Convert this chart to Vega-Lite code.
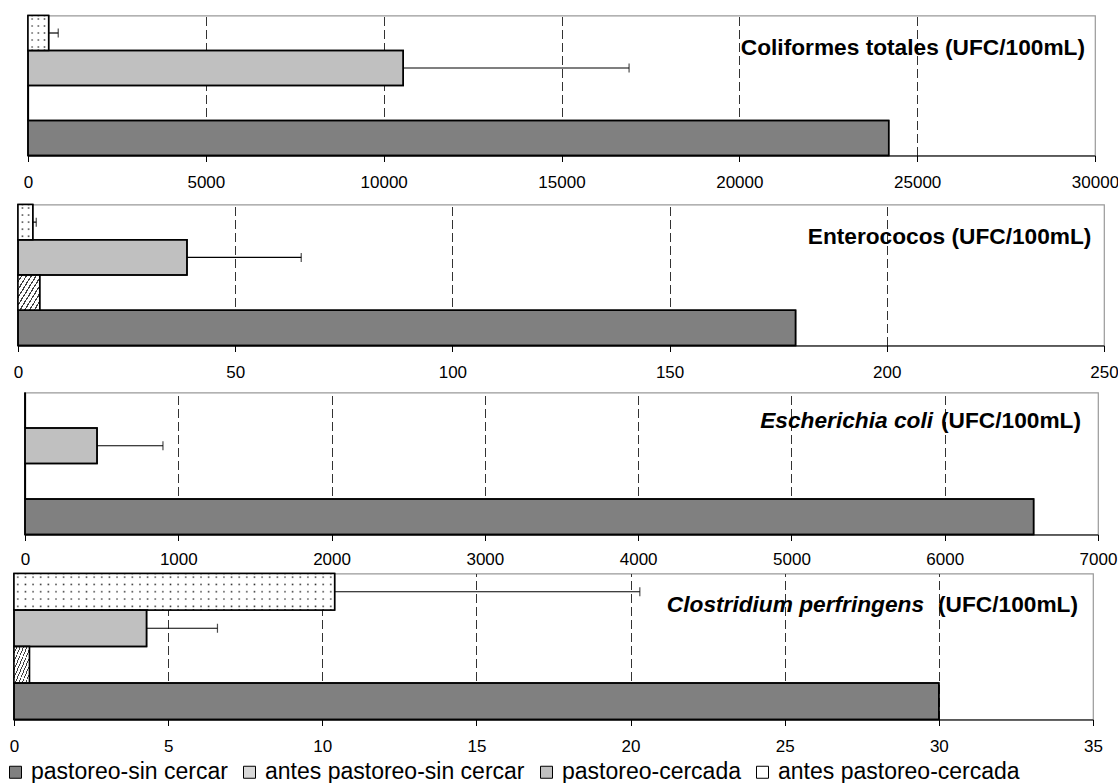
{
  "$schema": "https://vega.github.io/schema/vega-lite/v6.json",
  "background": "white",
  "padding": {"left": 0, "top": 13.5, "right": 0, "bottom": 0},
  "config": {
    "font": "Liberation Sans",
    "view": {"stroke": "#999999", "strokeWidth": 1.2},
    "axis": {"labelFont": "Liberation Sans", "labelFontSize": 17, "labelColor": "#000000", "domainColor": "#000000", "domainWidth": 1.2, "tickColor": "#000000", "tickSize": 6, "tickWidth": 1, "labelPadding": 13, "title": null, "labelFlush": false, "labelOverlap": false},
    "legend": {"orient": "bottom", "direction": "horizontal", "title": null, "symbolType": "square", "symbolSize": 144, "symbolStrokeColor": "#000000", "symbolStrokeWidth": 1, "labelFont": "Liberation Sans", "labelFontSize": 23, "labelColor": "#000000", "labelOffset": 4, "columnPadding": 10, "padding": 4, "offset": 1, "labelLimit": 400}
  },
  "datasets": {
    "coliformes": [
      {"grupo": "antes pastoreo-cercada", "valor": 580, "sup": 850},
      {"grupo": "pastoreo-cercada", "valor": 10550, "sup": 16900},
      {"grupo": "antes pastoreo-sin cercar", "valor": 0},
      {"grupo": "pastoreo-sin cercar", "valor": 24200}
    ],
    "enterococos": [
      {"grupo": "antes pastoreo-cercada", "valor": 3.4, "sup": 4.2},
      {"grupo": "pastoreo-cercada", "valor": 38.9, "sup": 65.2},
      {"grupo": "antes pastoreo-sin cercar", "valor": 5.0},
      {"grupo": "pastoreo-sin cercar", "valor": 179}
    ],
    "ecoli": [
      {"grupo": "antes pastoreo-cercada", "valor": 0},
      {"grupo": "pastoreo-cercada", "valor": 470, "sup": 900},
      {"grupo": "antes pastoreo-sin cercar", "valor": 0},
      {"grupo": "pastoreo-sin cercar", "valor": 6580}
    ],
    "clostridium": [
      {"grupo": "antes pastoreo-cercada", "valor": 10.4, "sup": 20.3},
      {"grupo": "pastoreo-cercada", "valor": 4.3, "sup": 6.6},
      {"grupo": "antes pastoreo-sin cercar", "valor": 0.5},
      {"grupo": "pastoreo-sin cercar", "valor": 30}
    ]
  },
  "spacing": 0,
  "resolve": {"scale": {"x": "independent", "y": "independent"}},
  "vconcat": [
    {
      "spacing": 0,
      "hconcat": [
        {"width": 15, "height": 1, "data": {"values": []}, "mark": "point", "encoding": {}, "view": {"stroke": null}},
        {
          "width": 1067, "height": 140,
          "data": {"name": "coliformes"},
          "encoding": {
            "y": {"field": "grupo", "type": "nominal", "scale": {"domain": ["antes pastoreo-cercada", "pastoreo-cercada", "antes pastoreo-sin cercar", "pastoreo-sin cercar"], "paddingInner": 0, "paddingOuter": 0}, "axis": {"labels": false, "ticks": false, "domain": true, "grid": false, "minExtent": 12, "maxExtent": 12, "title": null}},
            "x": {"field": "valor", "type": "quantitative", "scale": {"domain": [0, 30000], "nice": false}, "axis": {"values": [0, 5000, 10000, 15000, 20000, 25000, 30000], "format": "d", "grid": true, "gridColor": "#333333", "gridDash": [9, 4], "gridWidth": 1, "gridOpacity": {"condition": {"test": "datum.value >= 30000", "value": 0}, "value": 1}, "minExtent": 46, "maxExtent": 46, "title": null}}
          },
          "layer": [
            {"mark": {"type": "bar", "stroke": "#000000", "strokeWidth": 1.5},
             "encoding": {"color": {"field": "grupo", "type": "nominal",
               "legend": {"title": null, "encode": {"symbols": {"update": {"stroke": {"value": "#000000"}, "strokeWidth": {"value": 1}}}}},
               "scale": {"domain": ["pastoreo-sin cercar", "antes pastoreo-sin cercar", "pastoreo-cercada", "antes pastoreo-cercada"],
                 "range": ["#808080", "#d8d8d8", "#c0c0c0", "#ffffff"]}}}},
            {"transform": [{"filter": "datum.grupo === 'antes pastoreo-cercada'"}],
             "mark": {"type": "bar", "strokeWidth": 0, "fill": {"gradient": "linear", "x1": 0, "y1": 0, "x2": 0, "y2": 1, "stops": [
               {"offset": 0, "color": "rgba(40,40,40,0)"}, {"offset": 0.06, "color": "rgba(40,40,40,0)"}, {"offset": 0.1, "color": "rgba(40,40,40,1)"}, {"offset": 0.14, "color": "rgba(40,40,40,0)"},
               {"offset": 0.26, "color": "rgba(40,40,40,0)"}, {"offset": 0.3, "color": "rgba(40,40,40,1)"}, {"offset": 0.34, "color": "rgba(40,40,40,0)"},
               {"offset": 0.46, "color": "rgba(40,40,40,0)"}, {"offset": 0.5, "color": "rgba(40,40,40,1)"}, {"offset": 0.54, "color": "rgba(40,40,40,0)"},
               {"offset": 0.66, "color": "rgba(40,40,40,0)"}, {"offset": 0.7, "color": "rgba(40,40,40,1)"}, {"offset": 0.74, "color": "rgba(40,40,40,0)"},
               {"offset": 0.86, "color": "rgba(40,40,40,0)"}, {"offset": 0.9, "color": "rgba(40,40,40,1)"}, {"offset": 0.94, "color": "rgba(40,40,40,0)"},
               {"offset": 1, "color": "rgba(40,40,40,0)"}]}}},
            {"transform": [{"filter": "datum.grupo === 'antes pastoreo-cercada'"}],
             "mark": {"type": "bar", "strokeWidth": 0, "fill": {"gradient": "linear", "x1": 0, "y1": 0, "x2": 1, "y2": 0, "stops": [
               {"offset": 0, "color": "#ffffff"}, {"offset": 0.13, "color": "#ffffff"}, {"offset": 0.2, "color": "rgba(255,255,255,0)"}, {"offset": 0.27, "color": "#ffffff"},
               {"offset": 0.43, "color": "#ffffff"}, {"offset": 0.5, "color": "rgba(255,255,255,0)"}, {"offset": 0.57, "color": "#ffffff"},
               {"offset": 0.73, "color": "#ffffff"}, {"offset": 0.8, "color": "rgba(255,255,255,0)"}, {"offset": 0.87, "color": "#ffffff"}, {"offset": 1, "color": "#ffffff"}]}}},
            {"mark": {"type": "bar", "fill": "transparent", "stroke": "#000000", "strokeWidth": 1.5}},
            {"transform": [{"filter": "isValid(datum.sup)"}], "mark": {"type": "rule", "color": "#000000", "strokeWidth": 1.2}, "encoding": {"x2": {"field": "sup"}}},
            {"transform": [{"filter": "isValid(datum.sup)"}], "mark": {"type": "tick", "color": "#000000", "size": 9, "thickness": 1.2}, "encoding": {"x": {"field": "sup", "type": "quantitative"}}},
            {"transform": [{"filter": "datum.grupo === 'antes pastoreo-cercada'"}],
             "mark": {"type": "text", "text": "Coliformes totales (UFC/100mL)", "align": "right", "baseline": "middle", "font": "Liberation Sans", "fontSize": 22.7, "fontWeight": "bold", "color": "#000000", "dx": -10, "dy": 15},
             "encoding": {"x": {"datum": 30000}}}
          ]
        }
      ]
    },
    {
      "spacing": 0,
      "hconcat": [
        {"width": 5, "height": 1, "data": {"values": []}, "mark": "point", "encoding": {}, "view": {"stroke": null}},
        {
          "width": 1086, "height": 141,
          "data": {"name": "enterococos"},
          "encoding": {
            "y": {"field": "grupo", "type": "nominal", "scale": {"domain": ["antes pastoreo-cercada", "pastoreo-cercada", "antes pastoreo-sin cercar", "pastoreo-sin cercar"], "paddingInner": 0, "paddingOuter": 0}, "axis": {"labels": false, "ticks": false, "domain": true, "grid": false, "minExtent": 12, "maxExtent": 12, "title": null}},
            "x": {"field": "valor", "type": "quantitative", "scale": {"domain": [0, 250], "nice": false}, "axis": {"values": [0, 50, 100, 150, 200, 250], "format": "d", "grid": true, "gridColor": "#333333", "gridDash": [9, 4], "gridWidth": 1, "gridOpacity": {"condition": {"test": "datum.value >= 250", "value": 0}, "value": 1}, "minExtent": 44.25, "maxExtent": 44.25, "title": null}}
          },
          "layer": [
            {"mark": {"type": "bar", "stroke": "#000000", "strokeWidth": 1.5},
             "encoding": {"color": {"field": "grupo", "type": "nominal",
               "legend": {"title": null, "encode": {"symbols": {"update": {"stroke": {"value": "#000000"}, "strokeWidth": {"value": 1}}}}},
               "scale": {"domain": ["pastoreo-sin cercar", "antes pastoreo-sin cercar", "pastoreo-cercada", "antes pastoreo-cercada"],
                 "range": ["#808080", "#d8d8d8", "#c0c0c0", "#ffffff"]}}}},
            {"transform": [{"filter": "datum.grupo === 'antes pastoreo-sin cercar'"}],
             "mark": {"type": "bar", "strokeWidth": 0, "fill": {"gradient": "linear", "x1": 0, "y1": 0, "x2": 1, "y2": 1, "stops": [
                   {"offset": 0, "color": "#ffffff"}, {"offset": 0.08, "color": "#ffffff"}, {"offset": 0.08, "color": "#404040"}, {"offset": 0.111, "color": "#404040"},
                   {"offset": 0.111, "color": "#ffffff"}, {"offset": 0.191, "color": "#ffffff"}, {"offset": 0.191, "color": "#404040"}, {"offset": 0.222, "color": "#404040"},
                   {"offset": 0.222, "color": "#ffffff"}, {"offset": 0.302, "color": "#ffffff"}, {"offset": 0.302, "color": "#404040"}, {"offset": 0.333, "color": "#404040"},
                   {"offset": 0.333, "color": "#ffffff"}, {"offset": 0.413, "color": "#ffffff"}, {"offset": 0.413, "color": "#404040"}, {"offset": 0.444, "color": "#404040"},
                   {"offset": 0.444, "color": "#ffffff"}, {"offset": 0.524, "color": "#ffffff"}, {"offset": 0.524, "color": "#404040"}, {"offset": 0.556, "color": "#404040"},
                   {"offset": 0.556, "color": "#ffffff"}, {"offset": 0.636, "color": "#ffffff"}, {"offset": 0.636, "color": "#404040"}, {"offset": 0.667, "color": "#404040"},
                   {"offset": 0.667, "color": "#ffffff"}, {"offset": 0.747, "color": "#ffffff"}, {"offset": 0.747, "color": "#404040"}, {"offset": 0.778, "color": "#404040"},
                   {"offset": 0.778, "color": "#ffffff"}, {"offset": 0.858, "color": "#ffffff"}, {"offset": 0.858, "color": "#404040"}, {"offset": 0.889, "color": "#404040"},
                   {"offset": 0.889, "color": "#ffffff"}, {"offset": 0.969, "color": "#ffffff"}, {"offset": 0.969, "color": "#404040"}, {"offset": 1, "color": "#404040"}]}}},
            {"transform": [{"filter": "datum.grupo === 'antes pastoreo-cercada'"}],
             "mark": {"type": "bar", "strokeWidth": 0, "fill": {"gradient": "linear", "x1": 0, "y1": 0, "x2": 0, "y2": 1, "stops": [
               {"offset": 0, "color": "rgba(40,40,40,0)"}, {"offset": 0.06, "color": "rgba(40,40,40,0)"}, {"offset": 0.1, "color": "rgba(40,40,40,1)"}, {"offset": 0.14, "color": "rgba(40,40,40,0)"},
               {"offset": 0.26, "color": "rgba(40,40,40,0)"}, {"offset": 0.3, "color": "rgba(40,40,40,1)"}, {"offset": 0.34, "color": "rgba(40,40,40,0)"},
               {"offset": 0.46, "color": "rgba(40,40,40,0)"}, {"offset": 0.5, "color": "rgba(40,40,40,1)"}, {"offset": 0.54, "color": "rgba(40,40,40,0)"},
               {"offset": 0.66, "color": "rgba(40,40,40,0)"}, {"offset": 0.7, "color": "rgba(40,40,40,1)"}, {"offset": 0.74, "color": "rgba(40,40,40,0)"},
               {"offset": 0.86, "color": "rgba(40,40,40,0)"}, {"offset": 0.9, "color": "rgba(40,40,40,1)"}, {"offset": 0.94, "color": "rgba(40,40,40,0)"},
               {"offset": 1, "color": "rgba(40,40,40,0)"}]}}},
            {"transform": [{"filter": "datum.grupo === 'antes pastoreo-cercada'"}],
             "mark": {"type": "bar", "strokeWidth": 0, "fill": {"gradient": "linear", "x1": 0, "y1": 0, "x2": 1, "y2": 0, "stops": [
               {"offset": 0, "color": "#ffffff"}, {"offset": 0.2, "color": "#ffffff"}, {"offset": 0.3, "color": "rgba(255,255,255,0)"}, {"offset": 0.4, "color": "#ffffff"},
               {"offset": 0.62, "color": "#ffffff"}, {"offset": 0.72, "color": "rgba(255,255,255,0)"}, {"offset": 0.82, "color": "#ffffff"}, {"offset": 1, "color": "#ffffff"}]}}},
            {"mark": {"type": "bar", "fill": "transparent", "stroke": "#000000", "strokeWidth": 1.5}},
            {"transform": [{"filter": "isValid(datum.sup)"}], "mark": {"type": "rule", "color": "#000000", "strokeWidth": 1.2}, "encoding": {"x2": {"field": "sup"}}},
            {"transform": [{"filter": "isValid(datum.sup)"}], "mark": {"type": "tick", "color": "#000000", "size": 9, "thickness": 1.2}, "encoding": {"x": {"field": "sup", "type": "quantitative"}}},
            {"transform": [{"filter": "datum.grupo === 'antes pastoreo-cercada'"}],
             "mark": {"type": "text", "text": "Enterococos (UFC/100mL)", "align": "right", "baseline": "middle", "font": "Liberation Sans", "fontSize": 22.7, "fontWeight": "bold", "color": "#000000", "dx": -12.6, "dy": 14.7},
             "encoding": {"x": {"datum": 250}}}
          ]
        }
      ]
    },
    {
      "spacing": 0,
      "hconcat": [
        {"width": 12, "height": 1, "data": {"values": []}, "mark": "point", "encoding": {}, "view": {"stroke": null}},
        {
          "width": 1073, "height": 142,
          "data": {"name": "ecoli"},
          "encoding": {
            "y": {"field": "grupo", "type": "nominal", "scale": {"domain": ["antes pastoreo-cercada", "pastoreo-cercada", "antes pastoreo-sin cercar", "pastoreo-sin cercar"], "paddingInner": 0, "paddingOuter": 0}, "axis": {"labels": false, "ticks": false, "domain": true, "grid": false, "minExtent": 12, "maxExtent": 12, "title": null}},
            "x": {"field": "valor", "type": "quantitative", "scale": {"domain": [0, 7000], "nice": false}, "axis": {"values": [0, 1000, 2000, 3000, 4000, 5000, 6000, 7000], "format": "d", "grid": true, "gridColor": "#333333", "gridDash": [9, 4], "gridWidth": 1, "gridOpacity": {"condition": {"test": "datum.value >= 7000", "value": 0}, "value": 1}, "labelPadding": 11, "minExtent": 36, "maxExtent": 36, "title": null}}
          },
          "layer": [
            {"mark": {"type": "bar", "stroke": "#000000", "strokeWidth": 1.5},
             "encoding": {"color": {"field": "grupo", "type": "nominal",
               "legend": {"title": null, "encode": {"symbols": {"update": {"stroke": {"value": "#000000"}, "strokeWidth": {"value": 1}}}}},
               "scale": {"domain": ["pastoreo-sin cercar", "antes pastoreo-sin cercar", "pastoreo-cercada", "antes pastoreo-cercada"],
                 "range": ["#808080", "#d8d8d8", "#c0c0c0", "#ffffff"]}}}},
            {"mark": {"type": "bar", "fill": "transparent", "stroke": "#000000", "strokeWidth": 1.5}},
            {"transform": [{"filter": "isValid(datum.sup)"}], "mark": {"type": "rule", "color": "#000000", "strokeWidth": 1.2}, "encoding": {"x2": {"field": "sup"}}},
            {"transform": [{"filter": "isValid(datum.sup)"}], "mark": {"type": "tick", "color": "#000000", "size": 9, "thickness": 1.2}, "encoding": {"x": {"field": "sup", "type": "quantitative"}}},
            {"transform": [{"filter": "datum.grupo === 'antes pastoreo-cercada'"}],
             "mark": {"type": "text", "text": "Escherichia coli", "align": "right", "baseline": "middle", "font": "Liberation Sans", "fontSize": 22.7, "fontWeight": "bold", "fontStyle": "italic", "color": "#000000", "dx": -165, "dy": 10.5},
             "encoding": {"x": {"datum": 7000}}},
            {"transform": [{"filter": "datum.grupo === 'antes pastoreo-cercada'"}],
             "mark": {"type": "text", "text": "(UFC/100mL)", "align": "right", "baseline": "middle", "font": "Liberation Sans", "fontSize": 22.7, "fontWeight": "bold", "color": "#000000", "dx": -17, "dy": 10.5},
             "encoding": {"x": {"datum": 7000}}}
          ]
        }
      ]
    },
    {
      "spacing": 0,
      "hconcat": [
        {"width": 1, "height": 1, "data": {"values": []}, "mark": "point", "encoding": {}, "view": {"stroke": null}},
        {
          "width": 1079, "height": 146,
          "data": {"name": "clostridium"},
          "encoding": {
            "y": {"field": "grupo", "type": "nominal", "scale": {"domain": ["antes pastoreo-cercada", "pastoreo-cercada", "antes pastoreo-sin cercar", "pastoreo-sin cercar"], "paddingInner": 0, "paddingOuter": 0}, "axis": {"labels": false, "ticks": false, "domain": true, "grid": false, "minExtent": 12, "maxExtent": 12, "title": null}},
            "x": {"field": "valor", "type": "quantitative", "scale": {"domain": [0, 35], "nice": false}, "axis": {"values": [0, 5, 10, 15, 20, 25, 30, 35], "format": "d", "grid": true, "gridColor": "#333333", "gridDash": [9, 4], "gridWidth": 1, "gridOpacity": {"condition": {"test": "datum.value >= 35", "value": 0}, "value": 1}, "title": null}}
          },
          "layer": [
            {"mark": {"type": "bar", "stroke": "#000000", "strokeWidth": 1.5},
             "encoding": {"color": {"field": "grupo", "type": "nominal",
               "legend": {"title": null, "encode": {"symbols": {"update": {"stroke": {"value": "#000000"}, "strokeWidth": {"value": 1}}}}},
               "scale": {"domain": ["pastoreo-sin cercar", "antes pastoreo-sin cercar", "pastoreo-cercada", "antes pastoreo-cercada"],
                 "range": ["#808080", "#d8d8d8", "#c0c0c0", "#ffffff"]}}}},
            {"transform": [{"filter": "datum.grupo === 'antes pastoreo-sin cercar'"}],
             "mark": {"type": "bar", "strokeWidth": 0, "fill": {"gradient": "linear", "x1": 0, "y1": 0, "x2": 1, "y2": 1, "stops": [
                   {"offset": 0, "color": "#ffffff"}, {"offset": 0.08, "color": "#ffffff"}, {"offset": 0.08, "color": "#404040"}, {"offset": 0.111, "color": "#404040"},
                   {"offset": 0.111, "color": "#ffffff"}, {"offset": 0.191, "color": "#ffffff"}, {"offset": 0.191, "color": "#404040"}, {"offset": 0.222, "color": "#404040"},
                   {"offset": 0.222, "color": "#ffffff"}, {"offset": 0.302, "color": "#ffffff"}, {"offset": 0.302, "color": "#404040"}, {"offset": 0.333, "color": "#404040"},
                   {"offset": 0.333, "color": "#ffffff"}, {"offset": 0.413, "color": "#ffffff"}, {"offset": 0.413, "color": "#404040"}, {"offset": 0.444, "color": "#404040"},
                   {"offset": 0.444, "color": "#ffffff"}, {"offset": 0.524, "color": "#ffffff"}, {"offset": 0.524, "color": "#404040"}, {"offset": 0.556, "color": "#404040"},
                   {"offset": 0.556, "color": "#ffffff"}, {"offset": 0.636, "color": "#ffffff"}, {"offset": 0.636, "color": "#404040"}, {"offset": 0.667, "color": "#404040"},
                   {"offset": 0.667, "color": "#ffffff"}, {"offset": 0.747, "color": "#ffffff"}, {"offset": 0.747, "color": "#404040"}, {"offset": 0.778, "color": "#404040"},
                   {"offset": 0.778, "color": "#ffffff"}, {"offset": 0.858, "color": "#ffffff"}, {"offset": 0.858, "color": "#404040"}, {"offset": 0.889, "color": "#404040"},
                   {"offset": 0.889, "color": "#ffffff"}, {"offset": 0.969, "color": "#ffffff"}, {"offset": 0.969, "color": "#404040"}, {"offset": 1, "color": "#404040"}]}}},
            {"transform": [{"filter": "datum.grupo === 'antes pastoreo-cercada'"}],
             "mark": {"type": "bar", "strokeWidth": 0, "fill": {"gradient": "linear", "x1": 0, "y1": 0, "x2": 0, "y2": 1, "stops": [
               {"offset": 0, "color": "rgba(40,40,40,0)"}, {"offset": 0.06, "color": "rgba(40,40,40,0)"}, {"offset": 0.1, "color": "rgba(40,40,40,1)"}, {"offset": 0.14, "color": "rgba(40,40,40,0)"},
               {"offset": 0.26, "color": "rgba(40,40,40,0)"}, {"offset": 0.3, "color": "rgba(40,40,40,1)"}, {"offset": 0.34, "color": "rgba(40,40,40,0)"},
               {"offset": 0.46, "color": "rgba(40,40,40,0)"}, {"offset": 0.5, "color": "rgba(40,40,40,1)"}, {"offset": 0.54, "color": "rgba(40,40,40,0)"},
               {"offset": 0.66, "color": "rgba(40,40,40,0)"}, {"offset": 0.7, "color": "rgba(40,40,40,1)"}, {"offset": 0.74, "color": "rgba(40,40,40,0)"},
               {"offset": 0.86, "color": "rgba(40,40,40,0)"}, {"offset": 0.9, "color": "rgba(40,40,40,1)"}, {"offset": 0.94, "color": "rgba(40,40,40,0)"},
               {"offset": 1, "color": "rgba(40,40,40,0)"}]}}},
            {"transform": [{"filter": "datum.grupo === 'antes pastoreo-cercada'"}],
             "mark": {"type": "bar", "strokeWidth": 0, "fill": {"gradient": "linear", "x1": 0, "y1": 0, "x2": 1, "y2": 0, "stops": [
               {"offset": 0, "color": "#ffffff"},
               {"offset": 0.0074, "color": "#ffffff"}, {"offset": 0.0119, "color": "rgba(255,255,255,0)"}, {"offset": 0.0164, "color": "#ffffff"},
               {"offset": 0.0312, "color": "#ffffff"}, {"offset": 0.0357, "color": "rgba(255,255,255,0)"}, {"offset": 0.0402, "color": "#ffffff"},
               {"offset": 0.0550, "color": "#ffffff"}, {"offset": 0.0595, "color": "rgba(255,255,255,0)"}, {"offset": 0.0640, "color": "#ffffff"},
               {"offset": 0.0788, "color": "#ffffff"}, {"offset": 0.0833, "color": "rgba(255,255,255,0)"}, {"offset": 0.0878, "color": "#ffffff"},
               {"offset": 0.1026, "color": "#ffffff"}, {"offset": 0.1071, "color": "rgba(255,255,255,0)"}, {"offset": 0.1116, "color": "#ffffff"},
               {"offset": 0.1265, "color": "#ffffff"}, {"offset": 0.1310, "color": "rgba(255,255,255,0)"}, {"offset": 0.1355, "color": "#ffffff"},
               {"offset": 0.1503, "color": "#ffffff"}, {"offset": 0.1548, "color": "rgba(255,255,255,0)"}, {"offset": 0.1593, "color": "#ffffff"},
               {"offset": 0.1741, "color": "#ffffff"}, {"offset": 0.1786, "color": "rgba(255,255,255,0)"}, {"offset": 0.1831, "color": "#ffffff"},
               {"offset": 0.1979, "color": "#ffffff"}, {"offset": 0.2024, "color": "rgba(255,255,255,0)"}, {"offset": 0.2069, "color": "#ffffff"},
               {"offset": 0.2217, "color": "#ffffff"}, {"offset": 0.2262, "color": "rgba(255,255,255,0)"}, {"offset": 0.2307, "color": "#ffffff"},
               {"offset": 0.2455, "color": "#ffffff"}, {"offset": 0.2500, "color": "rgba(255,255,255,0)"}, {"offset": 0.2545, "color": "#ffffff"},
               {"offset": 0.2693, "color": "#ffffff"}, {"offset": 0.2738, "color": "rgba(255,255,255,0)"}, {"offset": 0.2783, "color": "#ffffff"},
               {"offset": 0.2931, "color": "#ffffff"}, {"offset": 0.2976, "color": "rgba(255,255,255,0)"}, {"offset": 0.3021, "color": "#ffffff"},
               {"offset": 0.3169, "color": "#ffffff"}, {"offset": 0.3214, "color": "rgba(255,255,255,0)"}, {"offset": 0.3259, "color": "#ffffff"},
               {"offset": 0.3407, "color": "#ffffff"}, {"offset": 0.3452, "color": "rgba(255,255,255,0)"}, {"offset": 0.3497, "color": "#ffffff"},
               {"offset": 0.3645, "color": "#ffffff"}, {"offset": 0.3690, "color": "rgba(255,255,255,0)"}, {"offset": 0.3735, "color": "#ffffff"},
               {"offset": 0.3884, "color": "#ffffff"}, {"offset": 0.3929, "color": "rgba(255,255,255,0)"}, {"offset": 0.3974, "color": "#ffffff"},
               {"offset": 0.4122, "color": "#ffffff"}, {"offset": 0.4167, "color": "rgba(255,255,255,0)"}, {"offset": 0.4212, "color": "#ffffff"},
               {"offset": 0.4360, "color": "#ffffff"}, {"offset": 0.4405, "color": "rgba(255,255,255,0)"}, {"offset": 0.4450, "color": "#ffffff"},
               {"offset": 0.4598, "color": "#ffffff"}, {"offset": 0.4643, "color": "rgba(255,255,255,0)"}, {"offset": 0.4688, "color": "#ffffff"},
               {"offset": 0.4836, "color": "#ffffff"}, {"offset": 0.4881, "color": "rgba(255,255,255,0)"}, {"offset": 0.4926, "color": "#ffffff"},
               {"offset": 0.5074, "color": "#ffffff"}, {"offset": 0.5119, "color": "rgba(255,255,255,0)"}, {"offset": 0.5164, "color": "#ffffff"},
               {"offset": 0.5312, "color": "#ffffff"}, {"offset": 0.5357, "color": "rgba(255,255,255,0)"}, {"offset": 0.5402, "color": "#ffffff"},
               {"offset": 0.5550, "color": "#ffffff"}, {"offset": 0.5595, "color": "rgba(255,255,255,0)"}, {"offset": 0.5640, "color": "#ffffff"},
               {"offset": 0.5788, "color": "#ffffff"}, {"offset": 0.5833, "color": "rgba(255,255,255,0)"}, {"offset": 0.5878, "color": "#ffffff"},
               {"offset": 0.6026, "color": "#ffffff"}, {"offset": 0.6071, "color": "rgba(255,255,255,0)"}, {"offset": 0.6116, "color": "#ffffff"},
               {"offset": 0.6265, "color": "#ffffff"}, {"offset": 0.6310, "color": "rgba(255,255,255,0)"}, {"offset": 0.6355, "color": "#ffffff"},
               {"offset": 0.6503, "color": "#ffffff"}, {"offset": 0.6548, "color": "rgba(255,255,255,0)"}, {"offset": 0.6593, "color": "#ffffff"},
               {"offset": 0.6741, "color": "#ffffff"}, {"offset": 0.6786, "color": "rgba(255,255,255,0)"}, {"offset": 0.6831, "color": "#ffffff"},
               {"offset": 0.6979, "color": "#ffffff"}, {"offset": 0.7024, "color": "rgba(255,255,255,0)"}, {"offset": 0.7069, "color": "#ffffff"},
               {"offset": 0.7217, "color": "#ffffff"}, {"offset": 0.7262, "color": "rgba(255,255,255,0)"}, {"offset": 0.7307, "color": "#ffffff"},
               {"offset": 0.7455, "color": "#ffffff"}, {"offset": 0.7500, "color": "rgba(255,255,255,0)"}, {"offset": 0.7545, "color": "#ffffff"},
               {"offset": 0.7693, "color": "#ffffff"}, {"offset": 0.7738, "color": "rgba(255,255,255,0)"}, {"offset": 0.7783, "color": "#ffffff"},
               {"offset": 0.7931, "color": "#ffffff"}, {"offset": 0.7976, "color": "rgba(255,255,255,0)"}, {"offset": 0.8021, "color": "#ffffff"},
               {"offset": 0.8169, "color": "#ffffff"}, {"offset": 0.8214, "color": "rgba(255,255,255,0)"}, {"offset": 0.8259, "color": "#ffffff"},
               {"offset": 0.8407, "color": "#ffffff"}, {"offset": 0.8452, "color": "rgba(255,255,255,0)"}, {"offset": 0.8497, "color": "#ffffff"},
               {"offset": 0.8645, "color": "#ffffff"}, {"offset": 0.8690, "color": "rgba(255,255,255,0)"}, {"offset": 0.8735, "color": "#ffffff"},
               {"offset": 0.8884, "color": "#ffffff"}, {"offset": 0.8929, "color": "rgba(255,255,255,0)"}, {"offset": 0.8974, "color": "#ffffff"},
               {"offset": 0.9122, "color": "#ffffff"}, {"offset": 0.9167, "color": "rgba(255,255,255,0)"}, {"offset": 0.9212, "color": "#ffffff"},
               {"offset": 0.9360, "color": "#ffffff"}, {"offset": 0.9405, "color": "rgba(255,255,255,0)"}, {"offset": 0.9450, "color": "#ffffff"},
               {"offset": 0.9598, "color": "#ffffff"}, {"offset": 0.9643, "color": "rgba(255,255,255,0)"}, {"offset": 0.9688, "color": "#ffffff"},
               {"offset": 0.9836, "color": "#ffffff"}, {"offset": 0.9881, "color": "rgba(255,255,255,0)"}, {"offset": 0.9926, "color": "#ffffff"},
               {"offset": 1, "color": "#ffffff"}]}}},
            {"mark": {"type": "bar", "fill": "transparent", "stroke": "#000000", "strokeWidth": 1.5}},
            {"transform": [{"filter": "isValid(datum.sup)"}], "mark": {"type": "rule", "color": "#000000", "strokeWidth": 1.2}, "encoding": {"x2": {"field": "sup"}}},
            {"transform": [{"filter": "isValid(datum.sup)"}], "mark": {"type": "tick", "color": "#000000", "size": 9, "thickness": 1.2}, "encoding": {"x": {"field": "sup", "type": "quantitative"}}},
            {"transform": [{"filter": "datum.grupo === 'antes pastoreo-cercada'"}],
             "mark": {"type": "text", "text": "Clostridium perfringens", "align": "right", "baseline": "middle", "font": "Liberation Sans", "fontSize": 22.7, "fontWeight": "bold", "fontStyle": "italic", "color": "#000000", "dx": -169, "dy": 12.8},
             "encoding": {"x": {"datum": 35}}},
            {"transform": [{"filter": "datum.grupo === 'antes pastoreo-cercada'"}],
             "mark": {"type": "text", "text": "(UFC/100mL)", "align": "right", "baseline": "middle", "font": "Liberation Sans", "fontSize": 22.7, "fontWeight": "bold", "color": "#000000", "dx": -15, "dy": 12.8},
             "encoding": {"x": {"datum": 35}}}
          ]
        }
      ]
    }
  ]
}
